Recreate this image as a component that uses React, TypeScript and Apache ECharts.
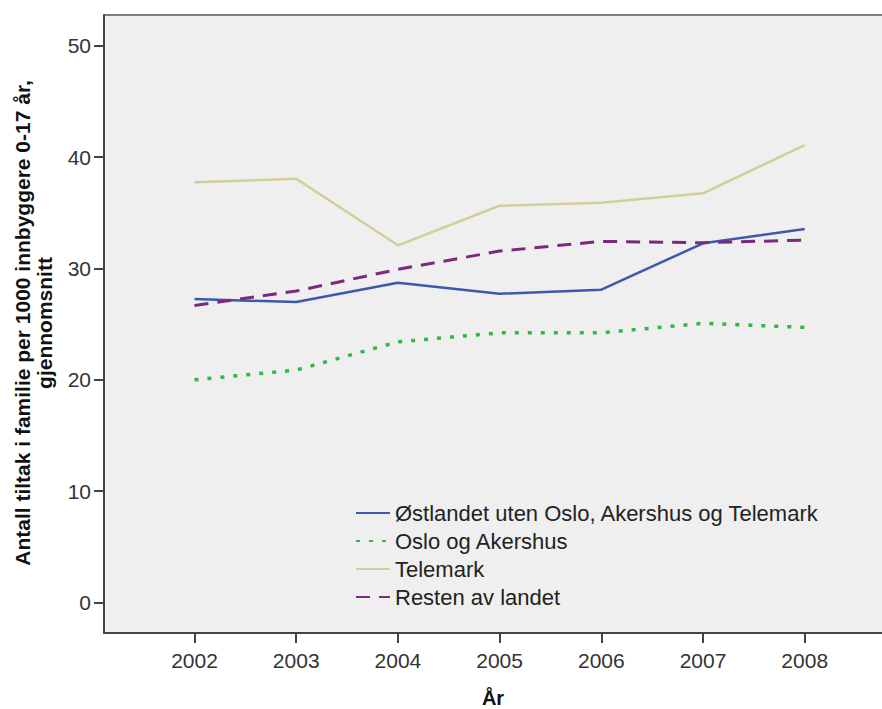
import React, { useEffect, useRef } from "react";
import * as echarts from "echarts";

const years = [2002, 2003, 2004, 2005, 2006, 2007, 2008];
const ostlandet = [27.25, 26.98, 28.72, 27.73, 28.09, 32.26, 33.54];
const osloAkershus = [20.0, 20.87, 23.41, 24.22, 24.22, 25.07, 24.71];
const telemark = [37.74, 38.06, 32.08, 35.63, 35.9, 36.75, 41.09];
const resten = [26.68, 27.97, 29.92, 31.56, 32.43, 32.31, 32.55];
const yTicks = [0, 10, 20, 30, 40, 50];
const seriesNames = [
  "Østlandet uten Oslo, Akershus og Telemark",
  "Oslo og Akershus",
  "Telemark",
  "Resten av landet",
];

const FONT = "Arial, 'Liberation Sans', sans-serif";

export default function App() {
  const ref = useRef<HTMLDivElement>(null);
  useEffect(() => {
    document.body.style.margin = "0";
    const chart = echarts.init(ref.current!, undefined, { renderer: "svg" });
    const pairs = (vals: number[]) => years.map((y, i) => [y, vals[i]]);
    chart.setOption({
      animation: false,
      backgroundColor: "#ffffff",
      textStyle: { fontFamily: FONT },
      grid: {
        left: 104,
        top: 15,
        right: 0,
        bottom: 76,
        show: true,
        containLabel: false,
        outerBoundsMode: "none",
        backgroundColor: "#efefef",
        borderColor: "#888888",
        borderWidth: 0,
      },
      legend: {
        orient: "vertical",
        left: 355,
        top: 502,
        padding: 0,
        itemWidth: 34,
        itemHeight: 14,
        itemGap: 6,
        itemStyle: { opacity: 0 },
        textStyle: { fontSize: 22, color: "#222", fontFamily: FONT, lineHeight: 22 },
        data: seriesNames,
      },
      xAxis: {
        type: "value",
        min: 2001.11,
        max: 2008.76,
        splitLine: { show: false },
        axisLine: { show: true, onZero: false, lineStyle: { color: "#444", width: 2 } },
        axisTick: { show: true, length: 10, customValues: years, lineStyle: { color: "#444", width: 2 } },
        axisLabel: {
          customValues: years,
          fontSize: 21,
          color: "#333",
          margin: 17,
          fontFamily: FONT,
          formatter: (v: number) => String(Math.round(v)),
        },
        name: "År",
        nameLocation: "middle",
        nameGap: 55,
        nameTextStyle: { fontSize: 20, fontWeight: "bold", color: "#111", fontFamily: FONT },
      },
      yAxis: {
        type: "value",
        min: -2.75,
        max: 52.77,
        splitLine: { show: false },
        axisLine: { show: true, onZero: false, lineStyle: { color: "#444", width: 2 } },
        axisTick: { show: true, length: 10, customValues: yTicks, lineStyle: { color: "#444", width: 2 } },
        axisLabel: {
          customValues: yTicks,
          fontSize: 21,
          color: "#333",
          margin: 13,
          fontFamily: FONT,
        },
      },
      graphic: [
        {
          type: "line",
          shape: { x1: 104, y1: 15, x2: 882, y2: 15 },
          style: { stroke: "#7f7f7f", lineWidth: 2 },
        },
        {
          type: "text",
          x: 33,
          y: 323,
          rotation: Math.PI / 2,
          style: {
            text: "Antall tiltak i familie per 1000 innbyggere 0-17 år,\ngjennomsnitt",
            fontSize: 21,
            fontWeight: "bold",
            fontFamily: FONT,
            fill: "#111",
            align: "center",
            verticalAlign: "middle",
            lineHeight: 22,
          },
        },
      ],
      series: [
        {
          name: seriesNames[0],
          type: "line",
          data: pairs(ostlandet),
          symbol: "none",
          color: "#3e58ac",
          lineStyle: { color: "#3e58ac", width: 2.5 },
        },
        {
          name: seriesNames[1],
          type: "line",
          data: pairs(osloAkershus),
          symbol: "none",
          color: "#2eb848",
          lineStyle: { color: "#2eb848", width: 3.5, type: [4, 9], cap: "butt" },
        },
        {
          name: seriesNames[2],
          type: "line",
          data: pairs(telemark),
          symbol: "none",
          color: "#d3ce97",
          lineStyle: { color: "#d3ce97", width: 2.5 },
        },
        {
          name: seriesNames[3],
          type: "line",
          data: pairs(resten),
          symbol: "none",
          color: "#7c287d",
          lineStyle: { color: "#7c287d", width: 3, type: [14, 9] },
        },
      ],
    });
    return () => chart.dispose();
  }, []);
  return (
    <div
      ref={ref}
      style={{ position: "fixed", left: 0, top: 0, width: 882, height: 709 }}
    />
  );
}
